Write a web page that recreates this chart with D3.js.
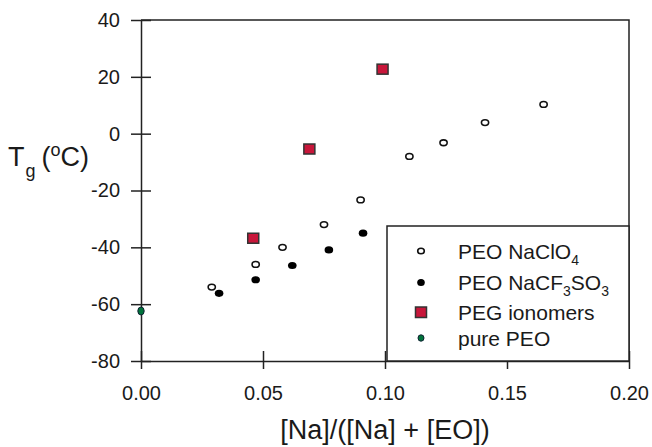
<!DOCTYPE html>
<html>
<head>
<meta charset="utf-8">
<script src="https://cdn.jsdelivr.net/npm/d3@7"></script>
<style>
  body { margin: 0; background: #fff; }
  svg { display: block; font-family: "Liberation Sans", Arial, Helvetica, sans-serif; }
  .axis path, .axis line { stroke: #222; stroke-width: 1.5; }
  .axis text { font-family: "Liberation Sans", Arial, Helvetica, sans-serif; font-size: 20px; fill: #1a1a1a; }
</style>
</head>
<body>
<svg width="652" height="447"></svg>
<script>
// data
const xTicks = [0.00, 0.05, 0.10, 0.15, 0.20];
const yTicks = [-80, -60, -40, -20, 0, 20, 40];

const naclo4X = [0.029, 0.047, 0.058, 0.075, 0.090, 0.110, 0.124, 0.141, 0.165];
const naclo4Y = [-54, -46, -40, -32, -23.3, -8, -3.2, 3.9, 10.3];

const cf3X = [0.032, 0.047, 0.062, 0.077, 0.091];
const cf3Y = [-56.2, -51.4, -46.4, -40.9, -35];

const ionomerX = [0.046, 0.069, 0.099];
const ionomerY = [-36.8, -5.4, 22.7];

const pureX = [0];
const pureY = [-62.4];

const w = 652, h = 447;
const margin = { top: 20, right: 23, bottom: 86, left: 141 };

const svg = d3.select("svg");

const x = d3.scaleLinear().domain([0, 0.2]).range([margin.left, w - margin.right]);
const y = d3.scaleLinear().domain([-80, 40]).range([h - margin.bottom, margin.top]);

// frame (top + right)
svg.append("path")
  .attr("d", `M${x(0)},${y(40)}H${x(0.2)}V${y(-80)}`)
  .attr("fill", "none").attr("stroke", "#222").attr("stroke-width", 1.5);

// y axis: outward ticks with labels, plus inward ticks
svg.append("g").attr("class", "axis")
  .attr("transform", `translate(${x(0)},0)`)
  .call(d3.axisLeft(y).tickValues(yTicks).tickSize(10).tickSizeOuter(0).tickPadding(11)
    .tickFormat(d => String(d)));
svg.append("g").attr("class", "axis")
  .attr("transform", `translate(${x(0)},0)`)
  .call(d3.axisLeft(y).tickValues(yTicks).tickSize(-10).tickSizeOuter(0).tickFormat(""))
  .select(".domain").remove();

// x axis
svg.append("g").attr("class", "axis")
  .attr("transform", `translate(0,${y(-80)})`)
  .call(d3.axisBottom(x).tickValues(xTicks).tickSize(8).tickSizeOuter(0).tickPadding(17)
    .tickFormat(d3.format(".2f")));
svg.append("g").attr("class", "axis")
  .attr("transform", `translate(0,${y(-80)})`)
  .call(d3.axisBottom(x).tickValues(xTicks).tickSize(-10).tickSizeOuter(0).tickFormat(""))
  .select(".domain").remove();

// axis titles
svg.append("text")
  .attr("x", 385)
  .attr("y", 439)
  .attr("text-anchor", "middle")
  .attr("font-size", 27)
  .attr("fill", "#1a1a1a")
  .text("[Na]/([Na] + [EO])");

const yt = svg.append("text").attr("x", 8).attr("y", 166).attr("font-size", 27).attr("fill", "#1a1a1a");
yt.append("tspan").text("T");
yt.append("tspan").attr("font-size", 18).attr("dy", 11).attr("dx", 1).text("g");
yt.append("tspan").attr("dy", -11).attr("dx", 6).text("(");
yt.append("tspan").attr("font-size", 18).attr("dy", -10).text("o");
yt.append("tspan").attr("dy", 10).text("C)");

// markers
const red = "#c8163a";

svg.append("g").selectAll("ellipse")
  .data(naclo4X.map((d, i) => [d, naclo4Y[i]]))
  .join("ellipse")
  .attr("cx", d => x(d[0])).attr("cy", d => y(d[1]))
  .attr("rx", 3.6).attr("ry", 2.9)
  .attr("fill", "#fff").attr("stroke", "#111").attr("stroke-width", 1.6);

svg.append("g").selectAll("ellipse")
  .data(cf3X.map((d, i) => [d, cf3Y[i]]))
  .join("ellipse")
  .attr("cx", d => x(d[0])).attr("cy", d => y(d[1]))
  .attr("rx", 4.3).attr("ry", 3.6)
  .attr("fill", "#000");

svg.append("g").selectAll("rect")
  .data(ionomerX.map((d, i) => [d, ionomerY[i]]))
  .join("rect")
  .attr("x", d => x(d[0]) - 5.5).attr("y", d => y(d[1]) - 5)
  .attr("width", 11).attr("height", 10)
  .attr("fill", red).attr("stroke", "#333").attr("stroke-width", 1.5);

svg.append("g").selectAll("ellipse")
  .data(pureX.map((d, i) => [d, pureY[i]]))
  .join("ellipse")
  .attr("cx", d => x(d[0])).attr("cy", d => y(d[1]))
  .attr("rx", 3.2).attr("ry", 4)
  .attr("fill", "#00733a").attr("stroke", "#123").attr("stroke-width", 1);

// legend
const lg = svg.append("g");
lg.append("rect")
  .attr("x", 387).attr("y", 226)
  .attr("width", x(0.2) - 387).attr("height", y(-80) - 226)
  .attr("fill", "#fff").attr("stroke", "#222").attr("stroke-width", 1.5);

const rows = [
  { label: ["PEO NaClO", "4"], cy: 251 },
  { label: ["PEO NaCF", "3", "SO", "3"], cy: 282.5 },
  { label: ["PEG ionomers"], cy: 312.5 },
  { label: ["pure PEO"], cy: 338 }
];

lg.append("ellipse").attr("cx", 421).attr("cy", rows[0].cy).attr("rx", 3.3).attr("ry", 2.8)
  .attr("fill", "#fff").attr("stroke", "#111").attr("stroke-width", 1.6);
lg.append("ellipse").attr("cx", 421).attr("cy", rows[1].cy).attr("rx", 3.8).attr("ry", 3.5)
  .attr("fill", "#000");
lg.append("rect").attr("x", 415.5).attr("y", rows[2].cy - 5.5).attr("width", 11).attr("height", 10.5)
  .attr("fill", red).attr("stroke", "#333").attr("stroke-width", 1.5);
lg.append("ellipse").attr("cx", 421).attr("cy", rows[3].cy).attr("rx", 3).attr("ry", 3.2)
  .attr("fill", "#00733a").attr("stroke", "#123").attr("stroke-width", 1);

rows.forEach(r => {
  const t = lg.append("text").attr("x", 458).attr("y", r.cy + 7.5)
    .attr("font-size", 21).attr("fill", "#1a1a1a");
  r.label.forEach((s, i) => {
    if (i % 2 === 0) {
      t.append("tspan").attr("dy", i === 0 ? 0 : -6).text(s);
    } else {
      t.append("tspan").attr("font-size", 14).attr("dy", 6).text(s);
    }
  });
});
</script>
</body>
</html>
